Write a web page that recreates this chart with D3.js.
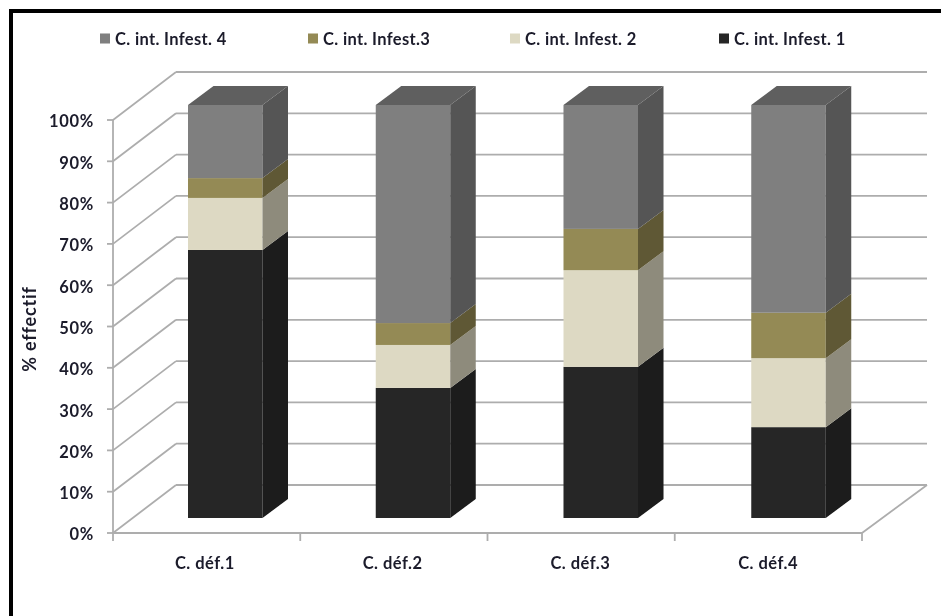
<!DOCTYPE html>
<html><head><meta charset="utf-8">
<script src="https://cdn.jsdelivr.net/npm/d3@7"></script>
<style>html,body{margin:0;padding:0;background:#fff}svg{display:block}
text{font-family:Lato,"Open Sans",sans-serif;font-weight:700;fill:#1a1a2a}</style>
</head><body><div id="c"></div>
<script>
const categories = ["C. déf.1","C. déf.2","C. déf.3","C. déf.4"];
const infest1 = [64.9,31.5,36.6,22.0];
const infest2 = [12.6,10.4,23.4,16.7];
const infest3 = [4.8,5.3,10.0,11.0];
const infest4 = [17.7,52.8,30.0,50.3];
const yTicks = [0,10,20,30,40,50,60,70,80,90,100];
const frontColors = ["#262626","#ddd9c3","#948a54","#7f7f7f"];
const sideColors = ["#1a1a1a","#8e8b7c","#5f5834","#545454"];
const topColor = "#5e5e5e";
const legendOrder = [
  {name:"C. int. Infest. 4",color:"#7f7f7f",x:100},
  {name:"C. int. Infest.3",color:"#948a54",x:308},
  {name:"C. int. Infest. 2",color:"#ddd9c3",x:510},
  {name:"C. int. Infest. 1",color:"#262626",x:719}
];
const stacks = [infest1,infest2,infest3,infest4];

const W=941,H=616;
const svg=d3.select("#c").append("svg").attr("width",W).attr("height",H);
const soft=svg.append("defs").append("filter").attr("id","soft");
soft.append("feGaussianBlur").attr("stdDeviation",0.45);
const root=svg.append("g").attr("filter","url(#soft)");

// frame
root.append("rect").attr("x",9).attr("y",9).attr("width",W).attr("height",4).attr("fill","#000");
root.append("rect").attr("x",9).attr("y",9).attr("width",4).attr("height",H).attr("fill","#000");

const y=d3.scaleLinear().domain([0,100]).range([533,120]);
const x=d3.scaleBand().domain(categories).range([113,864]);
const floorX=d3.scaleLinear().domain([0,4]).range([113,862]);
const depth={dx:63,dy:-48};
const gridC="#adadad";
const line=(x1,y1,x2,y2,w=1.8,c=gridC)=>root.append("line").attr("x1",x1).attr("y1",y1).attr("x2",x2).attr("y2",y2).attr("stroke",c).attr("stroke-width",w);

// walls
yTicks.forEach(t=>{
  const yy=y(t);
  line(113,yy,113+depth.dx,yy+depth.dy);
  line(113+depth.dx,yy+depth.dy,927,yy+depth.dy);
});
line(113,y(100),113,y(0));
line(113,y(0),862,y(0));
line(862,y(0),927,y(0)+depth.dy);
// ticks
yTicks.forEach(t=>line(107,y(t),113,y(t)));
d3.range(5).forEach(i=>line(floorX(i),533,floorX(i),541));

// tick labels through axes
const fs=16.5, ls="0.5px";
const yAxis=root.append("g").attr("transform","translate(94,1)")
  .call(d3.axisLeft(y).tickValues(yTicks).tickFormat(d=>d+"%").tickSize(0).tickPadding(0));
yAxis.select(".domain").remove();
yAxis.selectAll("text").attr("font-size",fs).style("font-family","Lato").style("font-weight","700").style("letter-spacing","0.7px").attr("dy","0.36em");
const xAxis=root.append("g").attr("transform","translate(-2,563)")
  .call(d3.axisBottom(x).tickSize(0).tickPadding(0));
xAxis.select(".domain").remove();
xAxis.selectAll("text").attr("font-size",fs).attr("y",0).attr("dy","0.36em").style("font-family","Lato").style("font-weight","700").style("letter-spacing",ls);

root.append("text").attr("transform","translate(30,329) rotate(-90)").attr("text-anchor","middle").attr("dy","0.36em").attr("font-size",18).style("letter-spacing","0.8px").text("% effectif");

// bars
const barW=74.5, barOffset=75, bdx=25.5, bdy=-19, floorLift=15;
const base=y(0)-floorLift;
const scaleH=(y(0)-y(100))/100;
categories.forEach((c,i)=>{
  const left=x(c)+barOffset;
  const right=left+barW;
  const g=root.append("g");
  let cum=0;
  stacks.forEach((s,k)=>{
    const y0=base-cum*scaleH, y1=base-(cum+s[i])*scaleH;
    cum+=s[i];
    g.append("rect").attr("x",left).attr("y",y1).attr("width",barW).attr("height",y0-y1).attr("fill",frontColors[k]);
    g.append("polygon").attr("points",[[right,y0],[right+bdx,y0+bdy],[right+bdx,y1+bdy],[right,y1]].join(" ")).attr("fill",sideColors[k]);
  });
  const t=base-cum*scaleH;
  g.append("polygon").attr("points",[[left,t],[left+bdx,t+bdy],[right+bdx,t+bdy],[right,t]].join(" ")).attr("fill",topColor);
});

// legend
legendOrder.forEach(d=>{
  root.append("rect").attr("x",d.x).attr("y",33.5).attr("width",10).attr("height",10).attr("fill",d.color);
  root.append("text").attr("x",d.x+15).attr("y",39).attr("dy","0.36em").attr("font-size",fs).style("letter-spacing","0.35px").text(d.name);
});
</script></body></html>
